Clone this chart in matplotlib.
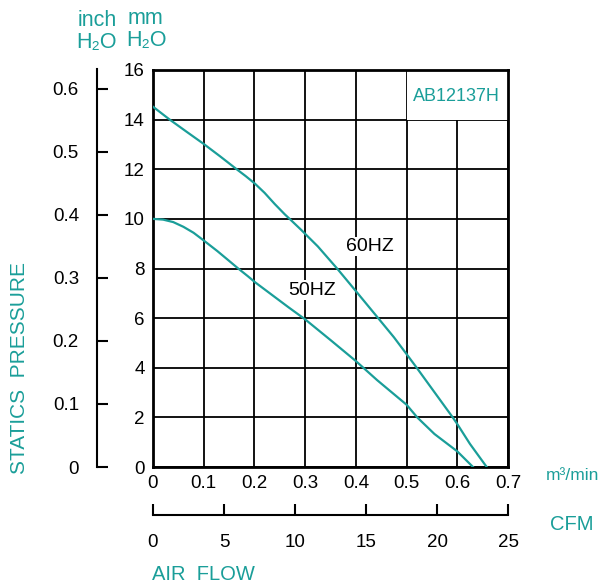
import matplotlib
matplotlib.use("Agg")
import matplotlib.pyplot as plt
from matplotlib.patches import Rectangle

plt.rcParams['font.family'] = ['Liberation Sans', 'DejaVu Sans']

TEAL = "#1a9e99"

# air flow (m3/min) vs static pressure (mm H2O)
flow60 = [0.0, 0.033, 0.067, 0.1, 0.133, 0.165, 0.183, 0.201, 0.22, 0.24, 0.26, 0.272,
          0.292, 0.325, 0.363, 0.4, 0.444, 0.475, 0.5, 0.52, 0.558, 0.591, 0.6, 0.625, 0.658]
press60 = [14.52, 14.0, 13.5, 13.02, 12.51, 12.0, 11.72, 11.42, 11.05, 10.6, 10.18, 9.95,
           9.56, 8.89, 8.0, 7.09, 6.0, 5.23, 4.55, 4.0, 2.93, 2.0, 1.73, 0.93, 0.0]
flow50 = [0.0, 0.02, 0.04, 0.06, 0.08, 0.1, 0.127, 0.147, 0.168, 0.187, 0.201, 0.233,
          0.267, 0.3, 0.351, 0.4, 0.442, 0.5, 0.521, 0.555, 0.6, 0.631]
press50 = [10.0, 9.97, 9.87, 9.68, 9.44, 9.13, 8.7, 8.36, 8.0, 7.69, 7.45, 6.96,
           6.44, 5.95, 5.1, 4.27, 3.5, 2.51, 2.0, 1.33, 0.63, 0.0]

m3_ticks = [0, 0.1, 0.2, 0.3, 0.4, 0.5, 0.6, 0.7]
mm_ticks = [0, 2, 4, 6, 8, 10, 12, 14, 16]
inch_ticks = [0, 0.1, 0.2, 0.3, 0.4, 0.5, 0.6]
cfm_ticks = [0, 5, 10, 15, 20, 25]

W, H = 598, 586
fig = plt.figure(figsize=(W / 100, H / 100), dpi=100)

# main chart
ax = fig.add_axes([153 / W, 1 - 467 / H, 355 / W, 397 / H])
ax.set_xlim(0, 0.7)
ax.set_ylim(0, 16)
ax.set_xticks(m3_ticks)
ax.set_xticklabels(["0", "0.1", "0.2", "0.3", "0.4", "0.5", "0.6", "0.7"])
ax.set_yticks(mm_ticks)
ax.grid(True, color="black", linewidth=1.3)
ax.tick_params(length=0, labelsize=13.5, pad=6)
for s in ax.spines.values():
    s.set_linewidth(2)
# white box for the model name
ax.add_patch(Rectangle((0.5, 14), 0.2, 2, facecolor="white", edgecolor="none", zorder=2))
ax.text(0.599, 14.95, "AB12137H", color=TEAL, fontsize=13, ha="center", va="center", zorder=3)

ax.plot(flow60, press60, color=TEAL, linewidth=1.6, zorder=4)
ax.plot(flow50, press50, color=TEAL, linewidth=1.6, zorder=4)
ax.text(0.427, 8.89, "60HZ", fontsize=14, ha="center", va="center",
        bbox=dict(facecolor="white", edgecolor="none", pad=1), zorder=3)
ax.text(0.314, 7.12, "50HZ", fontsize=14, ha="center", va="center",
        bbox=dict(facecolor="white", edgecolor="none", pad=1), zorder=3)

# inch H2O scale
ax2 = fig.add_axes([97 / W, 1 - 467 / H, 1 / W, 398 / H])
ax2.set_ylim(0, 16.04 / 25.4)
ax2.set_xticks([])
ax2.set_yticks(inch_ticks)
ax2.set_yticklabels(["0", "0.1", "0.2", "0.3", "0.4", "0.5", "0.6"])
ax2.tick_params(axis="y", direction="in", length=8, width=1.5, labelsize=13.5, pad=13)
for k in ["top", "right", "bottom"]:
    ax2.spines[k].set_visible(False)
ax2.spines["left"].set_linewidth(1.5)
ax2.patch.set_visible(False)

# CFM scale
ax3 = fig.add_axes([153 / W, 1 - 515 / H, 355 / W, 1 / H])
ax3.set_xlim(0, 25)
ax3.set_yticks([])
ax3.set_xticks(cfm_ticks)
ax3.tick_params(axis="x", direction="in", length=8, width=1.5, labelsize=13.5, pad=14)
for k in ["top", "right", "left"]:
    ax3.spines[k].set_visible(False)
ax3.spines["bottom"].set_linewidth(1.5)
ax3.patch.set_visible(False)

# labels
fig.text(97 / W, 1 - 20 / H, "inch", color=TEAL, fontsize=15.5, ha="center", va="center")
fig.text(97 / W, 1 - 42 / H, "H\u2082O", color=TEAL, fontsize=15.5, ha="center", va="center")
fig.text(145 / W, 1 - 18 / H, "mm", color=TEAL, fontsize=15.5, ha="center", va="center")
fig.text(146 / W, 1 - 41 / H, "H\u2082O", color=TEAL, fontsize=15.5, ha="center", va="center")
fig.text(20 / W, 1 - 368 / H, "STATICS  PRESSURE", color=TEAL, fontsize=15,
         rotation=90, ha="center", va="center")
fig.text(152 / W, 1 - 575 / H, "AIR  FLOW", color=TEAL, fontsize=14.5, ha="left", va="center")
fig.text(572 / W, 1 - 525 / H, "CFM", color=TEAL, fontsize=14.5, ha="center", va="center")
fig.text(546 / W, 1 - 476 / H, "m\u00b3/min", color=TEAL, fontsize=12.5, ha="left", va="center")

fig.savefig("out.png", dpi=100)
